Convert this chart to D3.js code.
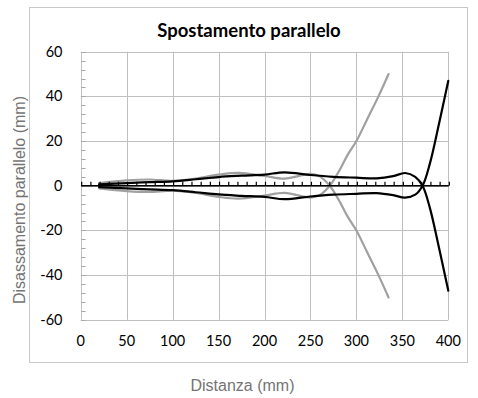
<!DOCTYPE html>
<html><head><meta charset="utf-8">
<script src="https://cdn.jsdelivr.net/npm/d3@7"></script>
<style>body{margin:0;background:#fff}svg{display:block}</style>
</head><body><svg id="c" width="478" height="398"></svg>
<script>
const chartTitle = "Spostamento parallelo";
const xTitle = "Distanza (mm)";
const yTitle = "Disassamento parallelo (mm)";
const xTicks = [0, 50, 100, 150, 200, 250, 300, 350, 400];
const yTicks = [-60, -40, -20, 0, 20, 40, 60];

const blackX     = [20, 50, 75, 100, 125, 150, 175, 200, 222, 250, 275, 300, 322, 340, 353, 364, 372, 380, 390, 400];
const blackUpper = [0.6, 1.2, 1.6, 2.0, 2.9, 3.9, 4.5, 5.0, 6.0, 4.8, 4.0, 3.6, 3.3, 4.3, 5.7, 4.0, 0, -10, -28, -47];
const blackLower = [-0.6, -1.2, -1.6, -2.0, -2.9, -3.9, -4.5, -5.0, -6.0, -4.8, -4.0, -3.6, -3.3, -4.2, -5.3, -4.0, 0, 10, 28, 47];

const grayX     = [20, 50, 75, 100, 125, 150, 172, 200, 222, 250, 260, 271, 281, 290, 300, 312, 324, 335];
const grayUpper = [1.2, 2.4, 2.8, 2.2, 3.2, 5.0, 5.8, 4.4, 3.2, 5.3, 4.2, 0, -6.5, -13.5, -20, -30, -40, -50];
const grayLower = [-1.2, -2.4, -2.8, -2.2, -3.2, -5.0, -5.8, -4.4, -3.2, -5.3, -4.2, 0, 6.5, 13.5, 20, 30, 40, 50];

const svg = d3.select("#c");
const x = d3.scaleLinear().domain([0, 400]).range([80.7, 448.3]);
const y = d3.scaleLinear().domain([-60, 60]).range([319.8, 51.7]);
const gridCol = "#bfbfbf";

// outer frame
svg.append("rect").attr("x", 29.5).attr("y", 7.5).attr("width", 438).attr("height", 355)
  .attr("fill", "#fff").attr("stroke", "#c8c8c8").attr("stroke-width", 1);

// gridlines
const g = svg.append("g");
g.selectAll(".vx").data(xTicks).join("line")
  .attr("x1", d => Math.round(x(d)) + 0.5).attr("x2", d => Math.round(x(d)) + 0.5)
  .attr("y1", y(60)).attr("y2", y(-60)).attr("stroke", gridCol).attr("stroke-width", 1);
g.selectAll(".hy").data(yTicks).join("line")
  .attr("y1", d => Math.round(y(d)) + 0.5).attr("y2", d => Math.round(y(d)) + 0.5)
  .attr("x1", x(0)).attr("x2", x(400)).attr("stroke", gridCol).attr("stroke-width", 1);

// y minor ticks (inside)
const yMinor = d3.range(-60, 60.01, 4);
g.selectAll(".ym").data(yMinor).join("line")
  .attr("x1", Math.round(x(0)) + 0.5).attr("x2", Math.round(x(0)) + 4.5)
  .attr("y1", d => Math.round(y(d)) + 0.5).attr("y2", d => Math.round(y(d)) + 0.5)
  .attr("stroke", "#a6a6a6").attr("stroke-width", 1);

// series
const line = d3.line().curve(d3.curveCatmullRom.alpha(0.5));
function drawSeries(xs, ys, col) {
  svg.append("path").attr("d", line(xs.map((v, i) => [x(v), y(ys[i])])))
    .attr("fill", "none").attr("stroke", col).attr("stroke-width", 2.2)
    .attr("stroke-linejoin", "round").attr("stroke-linecap", "round");
}
drawSeries(grayX, grayUpper, "#a0a0a0");
drawSeries(grayX, grayLower, "#a0a0a0");
drawSeries(blackX, blackUpper, "#000");
drawSeries(blackX, blackLower, "#000");

// zero axis with ticks
const xAxis = d3.axisTop(x).tickValues(d3.range(0, 401, 10)).tickSize(4).tickFormat("");
const ax = svg.append("g").attr("transform", `translate(0.5,${y(0)})`).call(xAxis);
ax.select(".domain").attr("stroke", "#000").attr("stroke-width", 1.6).attr("d", `M${x(0)},0H${x(400)}`);
ax.selectAll(".tick line").attr("stroke", "#000").attr("stroke-width", 1.2);

// tick labels
const lblFont = "Lato, 'Noto Sans', sans-serif";
svg.append("g").selectAll("text").data(xTicks).join("text")
  .attr("x", d => x(d)).attr("y", 345.5).attr("text-anchor", "middle")
  .attr("font-family", lblFont).attr("font-size", 14.5).attr("fill", "#000")
  .text(d => d);
svg.append("g").selectAll("text").data(yTicks).join("text")
  .attr("x", 62.5).attr("y", d => y(d) + 5).attr("text-anchor", "end")
  .attr("font-family", lblFont).attr("font-size", 14.5).attr("fill", "#000")
  .text(d => d);

// title
svg.append("text").attr("x", 249).attr("y", 36.5).attr("text-anchor", "middle")
  .attr("font-family", lblFont).attr("font-weight", "bold").attr("font-size", 18.5)
  .attr("fill", "#000").text(chartTitle);

// axis titles
svg.append("text").attr("x", 242.5).attr("y", 391).attr("text-anchor", "middle")
  .attr("font-family", "'Liberation Sans', Arial, sans-serif").attr("font-size", 16)
  .attr("fill", "#747474").text(xTitle);
svg.append("text").attr("transform", "translate(24.5,200) rotate(-90)").attr("text-anchor", "middle")
  .attr("font-family", "'Liberation Sans', Arial, sans-serif").attr("font-size", 16)
  .attr("fill", "#747474").text(yTitle);
</script></body></html>
